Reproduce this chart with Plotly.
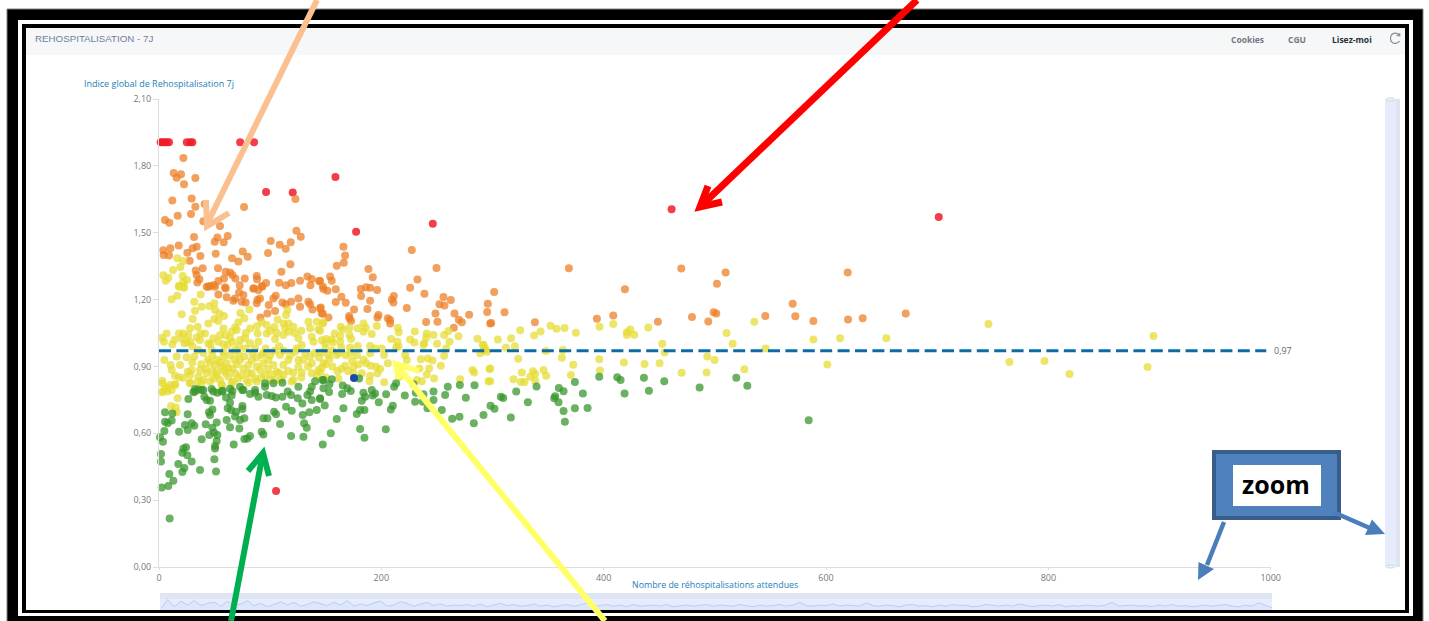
import plotly.graph_objects as go

W, H = 1429, 621

# ---------- data ----------
red_x = [1.5, 3, 5, 7, 9, 25, 28, 30, 73, 85.5, 96.3, 120.3, 158.7, 177.3, 246.3, 105.3, 461.1, 701.4]
red_y = [1.906, 1.906, 1.906, 1.906, 1.906, 1.906, 1.906, 1.906, 1.906, 1.906, 1.683, 1.68, 1.75, 1.504, 1.54, 0.341, 1.605, 1.57]

orange_pts = [
(21.9,1.835),(13.2,1.768),(19.8,1.762),(15.9,1.747),(32.7,1.745),
(22.5,1.718),(12,1.644),(29.4,1.654),(41.1,1.629),(32.7,1.617),(28.8,1.584),(16.8,1.576),(5.4,1.557),(9.3,1.545),(39.9,1.552),
(54.9,1.53),(76.5,1.615),(122.7,1.651),(123.6,1.509),(127.5,1.482),(31.5,1.481),(52.5,1.479),(61.8,1.485),(50.1,1.46),(58.2,1.457),
(100.5,1.463),(108.6,1.446),(118.5,1.457),(114,1.428),(17.7,1.443),(3.9,1.421),(10.2,1.43),(4.2,1.4),(9,1.398),(25.5,1.41),
(30.3,1.43),(33.9,1.437),(51,1.406),(37.2,1.395),(27.6,1.374),(75.3,1.416),(65.7,1.385),(71.4,1.371),(79.8,1.392),(98.1,1.409),
(118.2,1.359),(39.3,1.34),(33,1.33),(53.1,1.34),(110.1,1.325),(60,1.325),(63.9,1.322),(66,1.31),(58.5,1.295),(53.4,1.283),
(33.9,1.31),(36.3,1.291),(34.5,1.277),(68.7,1.294),(77.1,1.294),(87.9,1.306),(88.2,1.291),(96.3,1.274),(108,1.276),(119.1,1.274),
(114,1.264),(126.9,1.285),(133.5,1.303),(137.4,1.292),(144,1.283),(136.2,1.264),(147.3,1.259),(72.6,1.264),(49.5,1.265),(45.9,1.261),
(42.9,1.258),(59.4,1.255),(92.4,1.261),(84.9,1.25),
(44.4,1.258),(50.4,1.258),(53.4,1.223),(60,1.25),(60.9,1.21),(66.9,1.195),(68.4,1.205),(72,1.232),(75.9,1.22),(78,1.187),(74.4,1.19),
(85.2,1.25),(89.4,1.243),(93,1.258),(88.5,1.198),(90.9,1.205),(87.9,1.183),(98.7,1.176),(102.9,1.205),(105,1.217),(111,1.187),(114,1.179),
(118.8,1.19),(104.4,1.149),(97.5,1.137),(91.2,1.12),(125.4,1.205),(134.4,1.19),(126.9,1.168),(135.9,1.179),(138,1.156),(145.5,1.164),(147.3,1.138),
(165.9,1.437),(167.4,1.398),(159.9,1.352),(166.2,1.365),(188.4,1.337),(192.3,1.3),(153.9,1.303),(155.4,1.285),(144.9,1.283),(147.9,1.247),
(151.5,1.24),(159,1.246),(164.1,1.213),(159,1.189),(168,1.186),(181.5,1.247),(186.3,1.255),(189.9,1.253),(196.2,1.243),(181.8,1.216),
(189.9,1.195),(187.5,1.158),(175.5,1.156),(227.4,1.422),(249.6,1.342),(232.5,1.29),(225.9,1.253),(238.8,1.226),(211.2,1.216),(209.4,1.2),
(210.9,1.187),(222.9,1.162),(255.9,1.211),(262.5,1.198),(252.3,1.179),(256.8,1.173),(248.7,1.138),(265.8,1.137),(279,1.132),(295.8,1.181),
(295.2,1.144),(297.9,1.093),(269.7,1.11),(272.4,1.098),(250.5,1.101),(240.3,1.099),(265.2,1.074),(197.4,1.131),(196.5,1.12),(205.8,1.116),
(207.9,1.108),(207.9,1.093),(171,1.126),(171.3,1.116),(172.8,1.104),(152.4,1.12),(146.4,1.138),(144.9,1.16),
(368.7,1.34),(301.5,1.234),(310.8,1.143),(298.8,1.095),(338.1,1.098),(393.9,1.114),(408.6,1.128),(419.1,1.246),(448.8,1.1),(469.8,1.339),
(479.4,1.122),(494.1,1.102),(498.9,1.143),(501.3,1.138),(501.9,1.271),(509.7,1.322),(545.4,1.126),(570,1.181),(572.4,1.125),(588.6,1.104),
(619.5,1.321),(619.8,1.111),(633,1.116),(671.7,1.137),
]

yellow_pts = [
(16.5,1.385),(21.9,1.373),(19.2,1.346),(12.6,1.333),(3.9,1.309),(8.4,1.298),(6,1.285),(21.3,1.306),(25.2,1.288),(21.9,1.28),(18,1.262),(22.2,1.258),
(18,1.258),(22.5,1.253),(16.5,1.217),(11.4,1.202),(37.5,1.223),(31.8,1.19),(32.4,1.15),(38.4,1.168),(20.4,1.134),(30.3,1.113),(45.3,1.171),(49.8,1.183),
(50.4,1.153),(54.3,1.138),(58.5,1.126),(81.3,1.155),(73.2,1.14),(76.8,1.116),(49.8,1.113),(44.4,1.093),(53.4,1.104),(71.4,1.098),(68.4,1.075),(65.4,1.056),
(92.4,1.098),(96.9,1.086),(103.8,1.077),(106.8,1.111),(115.5,1.153),(114.3,1.131),(111.9,1.093),(116.4,1.093),(120.9,1.078),(113.4,1.071),(116.4,1.056),
(134.4,1.101),(141.9,1.101),(147.9,1.098),(135.9,1.071),(143.4,1.066),(137.4,1.033),(146.4,1.018),(138.9,1.011),(125.4,1.026),(128.4,0.996),(111.9,1.041),
(104.4,1.023),(96.9,1.048),(88.8,1.048),(89.4,1.011),(81.9,1.004),(77.4,1.026),(72.9,1.019),(69.9,1.063),(63.9,1.026),(61.8,0.996),(54.9,1.041),(53.4,1.011),
(48.9,1.026),(44.4,1.004),(41.4,1.048),(34.8,1.078),(37.5,1.048),(36.9,1.019),(27.9,1.071),(26.4,1.041),(21.9,1.048),(18,1.048),(6.9,1.048),(2.4,1.029),
(4.5,1.011),(20.4,1.026),(24.9,1.008),(27.9,1.011),(22.8,1.004),
(4.8,0.929),(15.9,0.944),(24.9,0.941),(10.5,0.906),(11.4,0.884),(18.9,0.906),(30,0.918),(31.8,0.944),(29.4,0.884),(25.8,0.876),(27.9,0.861),(14.4,0.858),
(18,0.851),(21.9,0.849),(3,0.836),(27.9,0.827),(14.4,0.82),(9.9,0.817),(5.4,0.802),(2.4,0.784),(7.8,0.787),(36.9,0.884),(35.4,0.854),(34.8,0.831),(42.9,0.869),
(39.9,0.839),(45.9,0.917),(50.4,0.906),(54.9,0.918),(57.9,0.944),(60.9,0.914),(57.9,0.884),(62.4,0.891),(51.9,0.873),(48.9,0.846),(54.9,0.839),(62.4,0.854),
(68.4,0.869),(72.9,0.929),(76.8,0.944),(80.4,0.906),(83.4,0.929),(75.9,0.891),(83.4,0.869),(71.4,0.846),(78.9,0.839),(86.4,0.846),(90.9,0.884),(93.9,0.914),
(98.4,0.929),(102.9,0.906),(95.4,0.861),(105.9,0.876),(111.9,0.906),(116.4,0.929),(125.4,0.929),(135.9,0.944),(137.4,0.914),(125.4,0.899),(120.9,0.873),
(128.4,0.873),(137.4,0.869),(111.9,0.861),(104.4,0.839),(120.9,0.839),(143.4,0.884),(147.9,0.914),(101.4,0.864),(56.4,0.817),(65.4,0.824),(57.9,0.966),
(71.4,0.959),(92.4,0.951),(108.9,0.951),(122.4,0.966),(131.4,0.959),(47.4,0.974),(68.4,0.974),(86.4,0.981),(35.4,0.974),
(3.9,0.787),(7.8,0.806),(3,0.824),(11.4,0.794),(14.4,0.817),(16.8,0.757),(10.8,0.722),(15,0.716),(15.9,0.694),(27.9,0.824),(38.4,0.827),(45.9,0.832),
(56.4,0.817),(66.9,0.832),(80.4,0.827),(87.9,0.832),(119.4,0.832),
(147.3,1.093),(144.9,1.06),(163.5,1.078),(165.3,1.066),(171.3,1.074),(178.5,1.071),(183.9,1.093),(186,1.074),(183.9,1.056),(195.9,1.081),(191.4,1.045),
(171.3,1.041),(172.8,1.023),(158.1,1.048),(162.9,1.036),(150.3,1.023),(155.4,1.021),(149.4,1.004),(156.3,1.007),(162.9,1.011),(214.8,1.074),(215.7,1.053),
(208.8,1.023),(214.5,1.011),(230.1,1.057),(240.9,1.048),(225.9,1.021),(229.8,1.007),(238.5,1.004),(240.3,1.029),(246.9,1.041),(256.5,1.041),(260.4,1.059),
(261.3,1.011),(250.2,1.002),(269.4,1.035),(286.5,1.024),(291.9,0.997),(258.3,0.981),(163.8,0.985),(178.8,0.992),(171.9,0.985),(189.9,0.992),(194.4,0.981),
(200.4,0.981),(213.3,0.985),(293.4,0.981),
(146.4,0.963),(152.4,0.951),(153.3,0.933),(159.9,0.951),(167.4,0.903),(160.5,0.879),(146.4,0.894),(144.9,0.876),(161.4,0.846),(173.7,0.926),(179.4,0.909),
(186.3,0.914),(190.5,0.903),(195.3,0.899),(198.9,0.888),(196.5,0.869),(174.9,0.899),(174.9,0.869),(182.4,0.869),(189.9,0.858),(189.3,0.834),(202.5,0.829),
(205.8,0.914),(202.5,0.951),(189.9,0.959),(216,0.854),(221.4,0.951),(222.9,0.929),(235.5,0.932),(241.8,0.936),(246,0.927),(256.5,0.948),(253.5,0.903),
(234.3,0.891),(243,0.891),(240.9,0.864),(247.5,0.846),(236.4,0.834),(231.9,0.839),(270.9,0.842),(282,0.884),(283.5,0.873),(297.9,0.891),(296.4,0.834),
(288.9,0.959),(291.9,0.974),(294.9,0.966),(215.4,0.989),(237.9,0.996),
(324.9,1.062),(304.8,1.021),(316.8,1.026),(312,0.984),(320.1,0.991),(337.5,1.039),(343.2,1.057),(352.2,1.083),(357.6,1.069),(364.8,1.072),(375,1.051),
(348,0.969),(363.3,0.974),(362.4,0.939),(323.1,0.935),(297.3,0.888),(297.9,0.833),(326.4,0.873),(318.9,0.843),(325.5,0.83),(328.8,0.83),(333.9,0.854),
(336.3,0.878),(338.4,0.866),(338.4,0.836),(345.9,0.884),(348.3,0.858),(372.6,0.908),(370.5,0.861),(396.3,1.078),(408.6,1.09),(396,0.932),(396.6,0.882),
(418.2,0.918),(420.9,1.053),(423.9,1.066),(420.9,1.041),(427.5,1.042),(440.1,1.075),(452.7,1.002),(454.8,0.962),(436.8,0.911),(450.3,0.914),(470.1,0.872),
(492.6,0.873),(493.2,0.944),(499.8,0.929),(510.6,1.05),(516,1.002),(526.5,0.887),(535.5,1.101),(545.7,0.981),(588.6,1.021),(601.2,0.909),(612.6,1.026),
(654.3,1.026),(291.3,0.996),(746.1,1.09),(765,0.92),(796.5,0.924),(819,0.866),(889.2,0.897),(894.6,1.036),
(30,0.99),(40,0.96),(48,0.95),(52,0.93),(44,0.93),(38,0.91),(42,0.89),(48,0.88),(56,0.9),(64,0.95),(68,0.93),(70,0.91),(66,0.89),(60,0.87),(52,0.86),
(46,1.0),(58,1.0),(66,1.01),(72,0.99),(78,0.98),(84,0.96),(88,0.94),(94,0.96),(100,0.95),(96,0.98),(104,0.97),(108,0.99),(112,0.97),(118,0.95),(124,0.98),
(130,0.93),(134,0.9),(128,0.85),(116,0.88),(108,0.87),(98,0.89),(88,0.9),(80,0.87),(74,0.86),(92,0.85),(100,0.84),(110,0.84),(140,0.96),(144,0.94),(150,0.98),
(156,0.97),(162,0.96),(168,0.95),(172,0.96),(178,0.95),(184,0.93),(150,0.91),(156,0.9),(164,0.89),(170,0.88),(142,0.86),(150,0.85),
(58,1.07),(82,1.07),(88,1.08),(78,1.05),(60,1.04),(100,1.06),(106,1.05),(122,1.05),(128,1.06),(34,1.03),(14,1.02),(12,1.0),
]

green_pts = [
(32.4,0.799),(38.4,0.794),(30.9,0.784),(47.4,0.799),(56.4,0.787),(63.9,0.8),(72.9,0.809),(75.9,0.794),(86.4,0.794),(95.4,0.824),(102.9,0.824),(95.4,0.809),
(111,0.827),(125.4,0.809),(137.4,0.809),(140.4,0.834),(147.9,0.839),(135.9,0.787),
(32.4,0.787),(35.4,0.797),(39.9,0.794),(26.4,0.754),(40.8,0.764),(42.9,0.749),(45.9,0.746),(48.9,0.787),(52.5,0.782),(57.3,0.791),(66,0.79),(65.4,0.769),
(60.3,0.761),(63.9,0.737),(61.8,0.712),(75,0.794),(81.9,0.776),(86.4,0.782),(89.4,0.764),(96.9,0.772),(101.4,0.767),(105,0.761),(111,0.764),(115.8,0.787),
(118.8,0.772),(124.8,0.757),(129,0.734),(133.5,0.772),(137.4,0.749),(144.9,0.757),(147.9,0.802),
(5.4,0.694),(12,0.689),(11.4,0.657),(5.4,0.652),(7.8,0.645),(4.8,0.61),(0.9,0.582),(3.6,0.562),(1.8,0.507),(1.8,0.473),(18,0.607),(23.4,0.637),(25.8,0.615),
(29.4,0.645),(31.8,0.634),(25.8,0.685),(42,0.64),(45.9,0.682),(45,0.694),(48,0.707),(51.9,0.648),(48,0.625),(49.5,0.604),(45.3,0.592),(52.5,0.592),(51.9,0.565),
(50.4,0.543),(50.4,0.532),(38.4,0.573),(24.3,0.537),(21.9,0.532),(21,0.513),(25.5,0.501),(29.4,0.473),(17.4,0.462),(22.8,0.444),(21,0.426),(9.3,0.417),(12.9,0.387),
(8.4,0.363),(2.4,0.357),(36.9,0.435),(49.8,0.483),(51.3,0.429),(67.2,0.55),(76.8,0.574),(79.5,0.577),(81.9,0.588),(92.4,0.607),(93.9,0.595),(72.3,0.622),(63.9,0.627),
(60.9,0.66),(68.4,0.675),(72.9,0.66),(76.8,0.667),(75,0.722),(75,0.709),(64.8,0.704),(69.3,0.697),(93.9,0.667),(97.5,0.667),(103.5,0.697),(105.3,0.685),(108.9,0.642),
(114.3,0.719),(119.4,0.701),(129.3,0.682),(135.3,0.694),(141.9,0.704),(130.5,0.645),(132.9,0.625),(118.8,0.588),(129.9,0.585),(147.3,0.55),(9.6,0.218),
(147,0.839),(155.4,0.842),(153.3,0.82),(153,0.785),(165.3,0.814),(169.5,0.802),(172.5,0.79),(164.7,0.776),(180,0.846),(183.9,0.782),(185.4,0.764),(182.4,0.746),
(191.4,0.794),(194.4,0.779),(192.3,0.769),(204.3,0.775),(197.7,0.739),(211.5,0.809),(213.3,0.824),(221.1,0.77),(231,0.782),(237.9,0.775),(230.4,0.742),(237.3,0.742),
(246.9,0.787),(246.9,0.749),(257.4,0.772),(259.8,0.809),(270.6,0.817),(283.8,0.815),(276,0.76),(241.5,0.712),(254.4,0.704),(263.7,0.665),(270.3,0.674),(283.2,0.645),
(291.9,0.682),(165.9,0.712),(149.1,0.725),(144.9,0.754),(159.9,0.664),(177.9,0.686),(180.9,0.704),(184.8,0.704),(210.3,0.724),(208.5,0.707),(180.9,0.619),(204,0.618),
(154.5,0.6),(228.9,0.82),(184.8,0.58),
(339.6,0.81),(321.3,0.788),(307.5,0.764),(309.6,0.758),(331.8,0.739),(298.2,0.724),(301.8,0.71),(316.5,0.671),(359.7,0.803),(363.9,0.789),(356.4,0.766),(355.5,0.757),
(359.4,0.739),(374.1,0.83),(381.3,0.778),(374.1,0.712),(385.5,0.713),(363.9,0.7),(365.1,0.652),(396,0.854),(412.2,0.852),(415.2,0.839),(418.8,0.779),(436.2,0.849),
(440.7,0.791),(454.5,0.833),(486.3,0.806),(519.3,0.849),(529.2,0.813),(584.4,0.658),
]

blue_x = [175.4]
blue_y = [0.848]

orange_x = [p[0] for p in orange_pts]
orange_y = [p[1] for p in orange_pts]
yellow_x = [p[0] for p in yellow_pts]
yellow_y = [p[1] for p in yellow_pts]
green_x = [p[0] for p in green_pts]
green_y = [p[1] for p in green_pts]

mean_x = [0, 996]
mean_y = [0.97, 0.97]

x_ticks = [0, 200, 400, 600, 800, 1000]
y_ticks = [0, 0.3, 0.6, 0.9, 1.2, 1.5, 1.8, 2.1]

slider_values = [0.1, 0.95, 0.3, 0.8, 0.45, 0.85, 0.4, 0.6, 0.7, 0.35, 0.8, 0.4, 0.55, 0.85, 0.4, 0.6, 0.3, 0.55, 0.75, 0.45, 0.7, 0.35,
                 0.5, 0.75, 0.6, 0.4, 0.7, 0.45, 0.85, 0.35, 0.55, 0.4, 0.65, 0.8, 0.35, 0.45, 0.75, 0.6, 0.35, 0.5, 0.7, 0.4, 0.55, 0.35, 0.45, 0.4, 0.5,
                 0.35, 0.55, 0.3, 0.45, 0.6, 0.4, 0.5, 0.35, 0.4, 0.55, 0.35, 0.45, 0.3, 0.4, 0.5, 0.35, 0.45, 0.65, 0.35, 0.4, 0.5,
                 0.35, 0.45, 0.3, 0.5, 0.35, 0.4, 0.45, 0.35, 0.5, 0.3, 0.4, 0.45, 0.35, 0.4, 0.5, 0.35, 0.45, 0.4, 0.35, 0.5,
                 0.4, 0.3, 0.45, 0.35, 0.4, 0.5, 0.35, 0.45, 0.7, 0.4, 0.35, 0.45, 0.4, 0.55, 0.35, 0.45, 0.4, 0.35, 0.65, 0.4,
                 0.35, 0.45, 0.4, 0.3, 0.45, 0.5, 0.35, 0.4, 0.3, 0.45, 0.35, 0.5, 0.4, 0.45, 0.3, 0.35, 0.5, 0.4, 0.35, 0.45,
                 0.35, 0.55, 0.4, 0.3, 0.4, 0.45, 0.35, 0.5, 0.3, 0.4, 0.35, 0.45, 0.4, 0.35, 0.45, 0.7, 0.35, 0.4, 0.45, 0.35,
                 0.4, 0.3, 0.45, 0.35, 0.5, 0.35, 0.4, 0.3, 0.4, 0.45, 0.35, 0.4, 0.5, 0.35, 0.3, 0.45, 0.35, 0.65, 0.4, 0.2]
slider_x = list(range(len(slider_values)))

# ---------- layout helpers ----------
def fx(v): return v / W
def fy(v): return 1 - v / H

def rect(x0, y0, x1, y1, fill, line=None, lw=0, layer="below", kind="rect"):
    return dict(type=kind, xref="paper", yref="paper", x0=fx(x0), x1=fx(x1), y0=fy(y0), y1=fy(y1),
                fillcolor=fill, line=dict(color=line or fill, width=lw), layer=layer)

def seg(x0, y0, x1, y1, color, lw):
    return dict(type="line", xref="paper", yref="paper", x0=fx(x0), x1=fx(x1), y0=fy(y0), y1=fy(y1),
                line=dict(color=color, width=lw), layer="above")

def path(pts, color, lw=0, fill=None, close=False, layer="above"):
    d = "M" + " L".join(f"{fx(a):.5f},{fy(b):.5f}" for a, b in pts) + (" Z" if close else "")
    return dict(type="path", xref="paper", yref="paper", path=d, layer=layer,
                line=dict(color=color, width=lw), fillcolor=fill or "rgba(0,0,0,0)")

def label(x, y, text, size, color, anchor="left", family="Liberation Sans", bold=False):
    return dict(xref="paper", yref="paper", x=fx(x), y=fy(y), text=f"<b>{text}</b>" if bold else text, showarrow=False,
                xanchor=anchor, yanchor="middle", font=dict(size=size, color=color, family=family), borderpad=0, borderwidth=0,
                align="left")

BLUE_ARROW = "#4A7EBB"
HANDLE = "#C9D2E4"
shapes = [
    rect(7, 9, 1423, 622, "#000000", "#808080", 1),
    rect(18, 20, 1413, 616, "#FFFFFF"),
    rect(22, 24, 1409, 613, "#000000"),
    rect(26, 28, 1405, 610, "#FFFFFF"),
    rect(26, 28, 1405, 55, "#F6F7F9"),
    # y slider
    rect(1385, 99, 1396, 567, "#E6ECFB"),
    rect(1396, 99, 1400, 567, "#DEE4F3"),
    rect(1386, 98, 1395, 101, "#F4F6FC", HANDLE, 1, kind="circle"),
    rect(1386, 565, 1395, 568, "#F4F6FC", HANDLE, 1, kind="circle"),
    # x slider
    rect(160, 593, 1272, 610, "#E6ECFB"),
    rect(160, 593, 1272, 599, "#DFE5F4"),
    # refresh icon
    dict(type="path", xref="paper", yref="paper", layer="above", line=dict(color="#8A8F96", width=1.2),
         fillcolor="rgba(0,0,0,0)",
         path=f"M{fx(1399.5)},{fy(35)} C{fx(1396)},{fy(31.5)} {fx(1390.5)},{fy(33)} {fx(1390.5)},{fy(38.5)} "
              f"C{fx(1390.5)},{fy(44)} {fx(1397.5)},{fy(45)} {fx(1399.5)},{fy(41)}"),
    seg(1399.7, 33, 1399.7, 36.5, "#8A8F96", 1.2),
    seg(1396.5, 35.5, 1399.7, 35.5, "#8A8F96", 1.2),
    # peach arrow
    seg(317, 0, 208, 222, "#FAC090", 6),
    path([(206, 200), (207, 226), (229, 213)], "#FAC090", 6),
    # red arrow
    seg(917, 0, 702, 205, "#FF0000", 7),
    path([(708, 186), (700, 207), (722, 202)], "#FF0000", 7),
    # yellow arrow
    seg(605, 621, 399, 368, "#FFFF66", 6),
    path([(399, 379), (396, 364), (419, 371)], "#FFFF66", 6),
    # green arrow
    seg(231, 621, 262, 458, "#00B050", 6),
    path([(248, 471), (263, 453), (269, 476)], "#00B050", 6),
    # zoom callout
    rect(1214, 452, 1339, 518, "#4F81BD", "#385D8A", 4, layer="above"),
    rect(1233, 465, 1321, 506, "#FFFFFF", layer="above"),
    seg(1224, 522, 1207, 565, BLUE_ARROW, 4.5),
    path([(1198, 580), (1198.5, 562), (1214, 569)], BLUE_ARROW, 0, BLUE_ARROW, True),
    seg(1333, 512, 1372, 529, BLUE_ARROW, 4.5),
    path([(1385, 534), (1372, 519.5), (1365, 535)], BLUE_ARROW, 0, BLUE_ARROW, True),
]

TITLE_BLUE = "#1A80B6"
annotations = [
    label(35, 38, "REHOSPITALISATION - 7J", 9.75, "#6E819A"),
    label(1231, 39, "Cookies", 8.5, "#74787D", family="Open Sans", bold=True),
    label(1288, 39, "CGU", 8.5, "#74787D", family="Open Sans", bold=True),
    label(1332, 39, "Lisez-moi", 8.5, "#2B2F33", family="Open Sans", bold=True),
    label(84, 84, "Indice global de Rehospitalisation 7j", 9, TITLE_BLUE, family="Open Sans"),
    label(714.5, 585, "Nombre de réhospitalisations attendues", 8.85, TITLE_BLUE, anchor="center", family="Open Sans"),
    label(1276, 484, "zoom", 25, "#000000", anchor="center", family="Open Sans", bold=True),
    dict(xref="x", yref="y", x=mean_x[1], y=mean_y[1], text="0,97", showarrow=False, xanchor="left", yanchor="middle",
         xshift=6, font=dict(size=9, color="#666666", family="Open Sans")),
]

fig = go.Figure()

def dots(xs, ys, color, name, opacity=0.74, size=8):
    fig.add_trace(go.Scatter(x=xs, y=ys, mode="markers", name=name, cliponaxis=False,
                             marker=dict(color=color, size=size, opacity=opacity, line=dict(width=0))))

dots(red_x, red_y, "#EF1C2A", "Rouge", 0.85)
dots(orange_x, orange_y, "#EC7F24", "Orange")
dots(yellow_x, yellow_y, "#E5DC33", "Jaune")
dots(green_x, green_y, "#37962B", "Vert")
dots(blue_x, blue_y, "#1B4BA8", "Établissement", 1)
fig.add_trace(go.Scatter(x=mean_x, y=mean_y, mode="lines", name="Moyenne",
                         line=dict(color="#0B6CA8", width=3, dash="12px,5.4px")))
fig.add_trace(go.Scatter(x=slider_x, y=slider_values, mode="lines", xaxis="x2", yaxis="y2", name="Zoom",
                         fill="tozeroy", fillcolor="#DDE6FB", line=dict(color="#BBCCF5", width=1)))

axis_common = dict(showgrid=False, zeroline=False, showline=True, linecolor="#DDDDDD", linewidth=1,
                   ticks="outside", tickcolor="#DDDDDD",
                   tickfont=dict(size=9, color="#777777", family="Open Sans"))

fig.update_layout(
    width=W, height=H, autosize=False, margin=dict(l=0, r=0, t=0, b=0, pad=0, autoexpand=False),
    paper_bgcolor="rgba(255,255,255,1)", plot_bgcolor="rgba(0,0,0,0)", showlegend=False,
    separators=", ",
    xaxis=dict(domain=[fx(159), fx(1270.7)], range=[0, 1000], tickvals=x_ticks, anchor="y", ticklen=2, **axis_common),
    yaxis=dict(domain=[fy(567), fy(99)], range=[0, 2.1], tickvals=y_ticks, tickformat=".2f", anchor="x", ticklen=5, **axis_common),
    xaxis2=dict(domain=[fx(161), fx(1272)], range=[0, len(slider_values) - 1], visible=False, anchor="y2"),
    yaxis2=dict(domain=[fy(610), fy(599)], range=[0, 1], visible=False, anchor="x2"),
    shapes=shapes, annotations=annotations,
)

fig.write_html("out.html", config=dict(displayModeBar=False),
               post_script="document.body.style.margin='0';document.body.style.overflow='hidden';")
